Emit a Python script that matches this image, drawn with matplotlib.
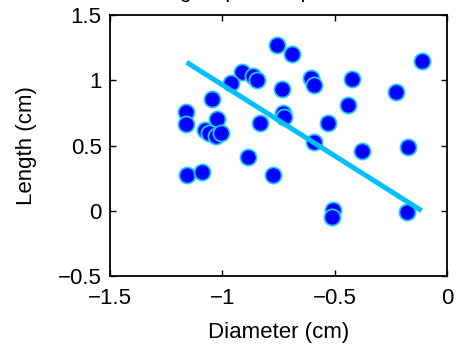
import matplotlib
matplotlib.use("Agg")
import matplotlib.pyplot as plt

plt.rcParams['font.family'] = ['Liberation Sans', 'DejaVu Sans']

diameter = [-0.758, -0.691, -0.914, -0.862, -0.847, -0.961, -0.733, -1.047,
            -1.162, -1.162, -1.025, -0.832, -0.729, -0.726, -0.607, -0.592,
            -0.422, -0.110, -0.227, -0.439, -0.531, -0.592, -1.075, -1.059,
            -1.028, -1.006, -0.380, -0.175, -0.884, -1.159, -1.092, -0.773,
            -0.506, -0.513, -0.177]
length = [1.270, 1.199, 1.066, 1.033, 1.002, 0.977, 0.931, 0.856,
          0.754, 0.662, 0.701, 0.670, 0.747, 0.716, 1.015, 0.964,
          1.007, 1.148, 0.908, 0.808, 0.676, 0.527, 0.615, 0.592,
          0.569, 0.592, 0.458, 0.491, 0.410, 0.274, 0.295, 0.274,
          0.006, -0.050, -0.007]

fit_x = [-1.159, -0.113]
fit_y = [1.138, 0.0]

title = "Lengths per sample of seeds"
xlabel = "Diameter (cm)"
ylabel = "Length (cm)"
xticks = [-1.5, -1.0, -0.5, 0.0]
xticklabels = ["\u22121.5", "\u22121", "\u22120.5", "0"]
yticks = [-0.5, 0.0, 0.5, 1.0, 1.5]
yticklabels = ["\u22120.5", "0", "0.5", "1", "1.5"]

W, H = 459, 353
FS = 16
fig = plt.figure(figsize=(W / 100, H / 100), dpi=100)
ax = fig.add_axes([110 / W, 1 - 276 / H, 337 / W, 261 / H])

ax.scatter(diameter, length, s=135, facecolor='#0000ff', edgecolor='#22c8f8',
           linewidths=1.3, zorder=2)
ax.plot(fit_x, fit_y, color='#00bfff', linewidth=3.6, solid_capstyle='butt', zorder=3)

ax.set_xlim(-1.5, 0)
ax.set_ylim(-0.5, 1.5)
ax.set_xticks(xticks)
ax.set_xticklabels(xticklabels)
ax.set_yticks(yticks)
ax.set_yticklabels(yticklabels)
ax.tick_params(direction='in', length=4, width=1, top=True, right=True,
               labelsize=FS, colors='black')
ax.tick_params(axis='y', pad=6)
ax.tick_params(axis='x', pad=9)
for sp in ax.spines.values():
    sp.set_linewidth(1.3)
ax.set_xlabel(xlabel, fontsize=FS, labelpad=9)
ax.set_ylabel(ylabel, fontsize=FS, labelpad=15)

fig.text(278.5 / W, 1 + 1.5 / H, title, ha='center', va='baseline', fontsize=15)

fig.savefig("out.png", dpi=100)
